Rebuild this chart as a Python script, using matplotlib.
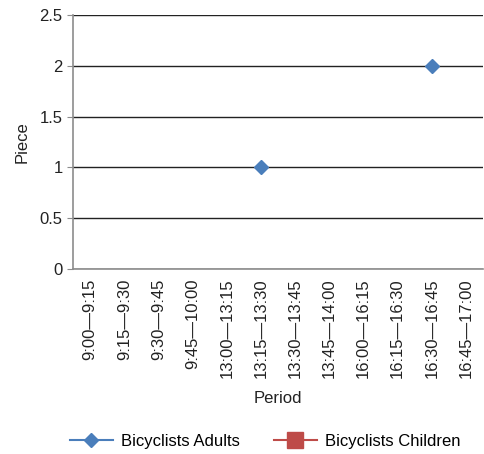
import numpy as np
import matplotlib.pyplot as plt

plt.rcParams['font.family'] = ['Liberation Sans', 'DejaVu Sans']

periods = ['9:00\u20149:15', '9:15\u20149:30', '9:30\u20149:45', '9:45\u201410:00',
           '13:00\u201413:15', '13:15\u201413:30', '13:30\u201413:45', '13:45\u201414:00',
           '16:00\u201416:15', '16:15\u201416:30', '16:30\u201416:45', '16:45\u201417:00']
adults = [np.nan, np.nan, np.nan, np.nan, np.nan, 1, np.nan, np.nan, np.nan, np.nan, 2, np.nan]
children = [np.nan] * 12

fs = 12
fig = plt.figure(figsize=(4.84, 4.54), dpi=100)
ax = fig.add_axes([0.151, 0.4075, 0.847, 0.5595])

x = np.arange(len(periods))
ax.plot(x, adults, color='#4a7ebb', marker='D', markersize=7, linewidth=1.5,
        label='Bicyclists Adults')
ax.plot(x, children, color='#be4b48', marker='s', markersize=11, linewidth=1.5,
        label='Bicyclists Children')

ax.set_xlim(-0.5, len(periods) - 0.5)
ax.set_ylim(0, 2.5)
ax.set_yticks([0, 0.5, 1, 1.5, 2, 2.5])
ax.set_yticklabels(['0', '0.5', '1', '1.5', '2', '2.5'])
ax.yaxis.grid(True, color='#222222', linewidth=1)
ax.set_axisbelow(True)
ax.set_xticks(x)
ax.set_xticklabels(periods, rotation=90)

for side in ['top', 'right']:
    ax.spines[side].set_visible(False)
for side in ['left', 'bottom']:
    ax.spines[side].set_color('#8c8c8c')
    ax.spines[side].set_linewidth(1.2)
ax.tick_params(axis='x', length=0, pad=7, labelsize=fs, colors='#222222')
ax.tick_params(axis='y', length=4, color='#8c8c8c', labelsize=fs, labelcolor='#222222')

ax.set_ylabel('Piece', fontsize=fs, color='#222222', labelpad=7)
ax.set_xlabel('Period', fontsize=fs, color='#222222', labelpad=9)

fig.legend(loc='lower center', bbox_to_anchor=(0.548, -0.022), ncol=2, frameon=False,
           fontsize=fs, handlelength=2.6, handletextpad=0.5, columnspacing=2.0)

fig.savefig('out.png', dpi=100)
